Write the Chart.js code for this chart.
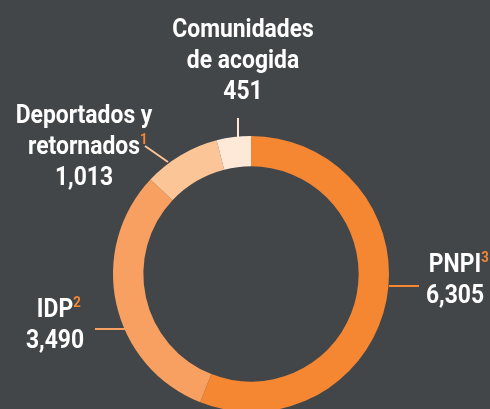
<!DOCTYPE html>
<html>
<head>
<meta charset="utf-8">
<script src="https://cdn.jsdelivr.net/npm/chart.js@4/dist/chart.umd.min.js"></script>
<style>
    html, body { margin: 0; padding: 0; background: #434649; overflow: hidden; }
    #wrap { position: relative; width: 490px; height: 420px; }
</style>
</head>
<body>
<div id="wrap"><canvas id="graph_donut"></canvas></div>
<script>

var LABELS_GROUPS       = ['PNPI', 'IDP', 'Deportados y retornados', 'Comunidades de acogida'];
var VALUES_GROUPS       = [6305, 3490, 1013, 451];
var NOTES_GROUPS        = ['3', '2', '1', ''];
var COLORS_GROUPS       = ['#F58733', '#F7A062', '#FCC597', '#FEE9D9'];

var FONT_LABEL          = 'bold 26px Roboto';
var TEXT_SCALE_X        = 0.88;
var COLOR_NOTE          = '#F58733';

// label layout: lines (last one is the value), x centre, first baseline, leader line
var LABEL_LAYOUT = [
    { lines: ['PNPI', null],                       x: 455, y: 272, note_after: 0, lead: [[389, 286], [419, 286]] },
    { lines: ['IDP', null],                        x: 55,  y: 317, note_after: 0, lead: [[95, 329], [125, 329]] },
    { lines: ['Deportados y', 'retornados', null], x: 84,  y: 123, note_after: 1, lead: [[145, 146], [168, 162]] },
    { lines: ['Comunidades', 'de acogida', null],  x: 243, y: 37,  note_after: -1, lead: [[238, 118], [238, 137]] },
];


function format_number(value) {

    return value.toLocaleString('en-US');
}


function draw_text(ctx, text, x, y, color, align) {

    ctx.save();
    ctx.translate(x, y);
    ctx.scale(TEXT_SCALE_X, 1);
    ctx.fillStyle = color;
    ctx.textAlign = align;
    ctx.fillText(text, 0, 0);
    ctx.restore();
}


var plugin_labels = {
    id: 'plugin_labels',
    afterDatasetsDraw: function(chart) {

        var ctx = chart.ctx;

        ctx.save();
        ctx.font = FONT_LABEL;
        ctx.textBaseline = 'alphabetic';

        LABEL_LAYOUT.forEach(function(item, i) {

            // leader line
            ctx.strokeStyle = COLORS_GROUPS[i];
            ctx.lineWidth = 2;
            ctx.beginPath();
            ctx.moveTo(item.lead[0][0], item.lead[0][1]);
            ctx.lineTo(item.lead[1][0], item.lead[1][1]);
            ctx.stroke();

            item.lines.forEach(function(line, j) {

                var text = line === null ? format_number(VALUES_GROUPS[i]) : line;
                var y = item.y + j * 31;

                draw_text(ctx, text, item.x, y, '#FFFFFF', 'center');

                if (item.note_after === j && NOTES_GROUPS[i] !== '') {
                    var w = ctx.measureText(text).width * TEXT_SCALE_X;
                    ctx.save();
                    ctx.font = 'bold 15px Roboto';
                    draw_text(ctx, NOTES_GROUPS[i], item.x + w / 2, y - 10, COLOR_NOTE, 'left');
                    ctx.restore();
                }
            });
        });

        ctx.restore();
    }
};


new Chart(document.getElementById('graph_donut'), {
    type: 'doughnut',
    data: {
        labels: LABELS_GROUPS,
        datasets: [{
            data: VALUES_GROUPS,
            backgroundColor: COLORS_GROUPS,
            borderWidth: 0,
        }]
    },
    options: {
        responsive: true,
        maintainAspectRatio: false,
        animation: false,
        cutout: '78%',
        layout: {
            padding: { top: 136, bottom: 8, left: 113, right: 101 }
        },
        plugins: {
            legend: { display: false },
            tooltip: { enabled: false }
        }
    },
    plugins: [plugin_labels]
});

</script>
</body>
</html>
